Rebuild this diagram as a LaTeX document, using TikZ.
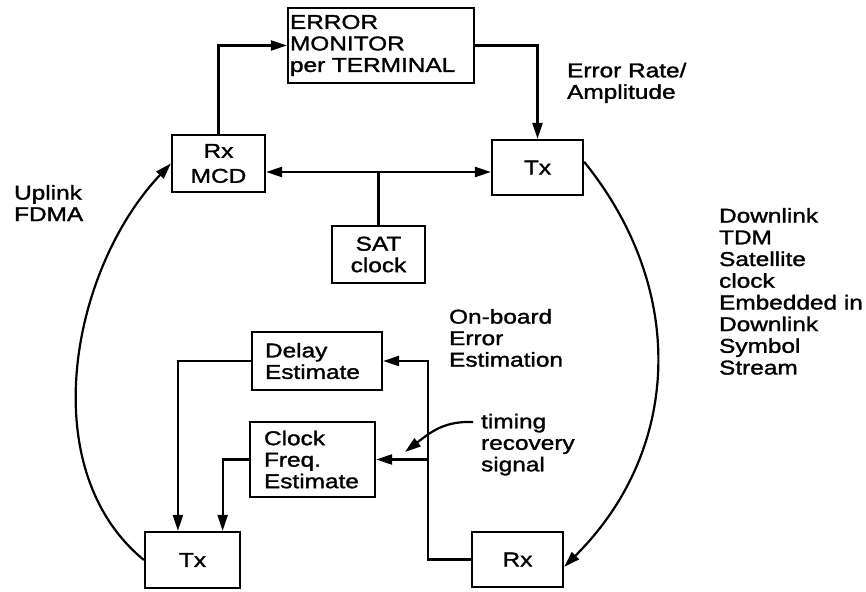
\documentclass[tikz,border=0pt]{standalone}
\usepackage{fontspec}
\setmainfont{Liberation Sans}[FakeStretch=1.22,FakeBold=1.5]
\usetikzlibrary{arrows.meta,calc}
\begin{document}
\begin{tikzpicture}[x=1pt,y=-1pt,
  line width=2.2pt,
  every node/.style={inner sep=0pt, font=\fontsize{20}{21.5}\selectfont},
  blk/.style={draw, line width=2.2pt, align=left},
  lbl/.style={anchor=north west, align=left},
  arr/.style={-{Triangle[length=16pt,width=10pt]}},
]
\useasboundingbox (0,0) rectangle (866,591);

% blocks
\node[blk, minimum width=186, minimum height=75, text width=182] (err) at (381,45.5)
  {ERROR\\MONITOR\\per TERMINAL};
\node[blk, align=center, minimum width=93, minimum height=57,
      font=\fontsize{20}{25}\selectfont] (rxmcd) at (218.5,163.5) {Rx\\MCD};
\node[blk, minimum width=91, minimum height=55] (txa) at (537.5,167.5) {Tx};
\node[blk, align=center, minimum width=93, minimum height=57] (sat) at (378.5,254.5) {SAT\\clock};
\node[blk, minimum width=130, minimum height=58, text width=104] (delay) at (317,361)
  {Delay\\Estimate};
\node[blk, minimum width=125, minimum height=75, text width=97] (clock) at (312.5,459.5)
  {Clock\\Freq.\\Estimate};
\node[blk, minimum width=95, minimum height=56] (txb) at (192.5,560) {Tx};
\node[blk, minimum width=91, minimum height=55] (rxb) at (517.5,559.5) {Rx};

% free labels
\node[lbl] (errlbl) at (566,61.7) {Error Rate/\\Amplitude};
\node[lbl] (uplbl) at (13,184) {Uplink\\FDMA};
\node[lbl, font=\fontsize{20}{21.7}\selectfont] (dnlbl) at (718,207)
  {Downlink\\TDM\\Satellite\\clock\\Embedded in\\Downlink\\Symbol\\Stream};
\node[lbl] (oblbl) at (448,308) {On-board\\Error\\Estimation};
\node[lbl] (trlbl) at (480,412.7) {timing\\recovery\\signal};

% monitor loop
\draw[arr] (rxmcd.north) |- (err.west);
\draw[arr] (err.east) -| (txa.north);

% satellite clock distribution
\coordinate (j) at (378.5,172);
\draw (sat.north) -- (j);
\draw[arr] (j) -- (rxmcd.east |- j);
\draw[arr] (j) -- (txa.west |- j);

% downlink and uplink paths
\draw[arr] (txa.7) .. controls (688,290) and (681,451) .. (rxb.-9);
\draw[arr] (txb.west) .. controls (33,469) and (71,269) .. (rxmcd.west);

% on-board error estimation
\coordinate (bus) at (428,420);
\draw[arr] (rxb.west) -| (bus) |- (delay.east);
\draw[arr] (bus |- clock.east) -- (clock.east);
\draw[arr] (delay.west) -| ($(txb.north west)!0.35!(txb.north east)$);
\draw[arr] (clock.west) -| ($(txb.north west)!0.81!(txb.north east)$);

% timing recovery pointer
\coordinate (tstart) at (473,422);
\coordinate (ttip) at (405,452);
\draw[arr] (tstart) .. controls (445,421) and (432,431) .. (ttip);
\end{tikzpicture}
\end{document}
